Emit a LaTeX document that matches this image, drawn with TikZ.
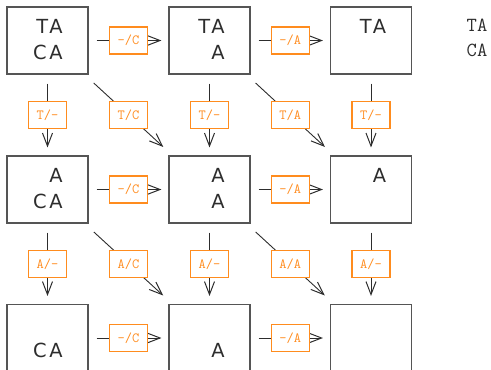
\documentclass[tikz,border=0pt]{standalone}
\usepackage{fontspec}
\newfontfamily\cellfont{DejaVu Sans}[LetterSpace=14]
\usetikzlibrary{arrows.meta}
\definecolor{lblorange}{RGB}{255,140,30}
\definecolor{boxgray}{RGB}{85,85,85}
\definecolor{txtgray}{RGB}{45,45,45}
\tikzset{
  cell/.style={draw=boxgray, line width=1.1pt, minimum width=81pt, minimum height=67pt, inner sep=0pt},
  seq/.style={anchor=base east, inner sep=0pt, text=txtgray, font=\cellfont\fontsize{19.4}{24}\selectfont},
  lbl/.style={draw=lblorange, fill=white, line width=1.2pt, text=lblorange, minimum width=38pt, minimum height=27pt, inner sep=0pt, font=\ttfamily\fontsize{14}{16}\selectfont},
  arr/.style={draw=txtgray, line width=0.9pt, -{Straight Barb[length=13pt,width=10pt,line width=1pt]}},
  harr/.style={arr, shorten <=8pt, shorten >=7pt},
  varr/.style={arr, shorten <=9pt, shorten >=8pt},
  darr/.style={arr, shorten <=12.5pt, shorten >=12.5pt},
  side/.style={anchor=base west, inner sep=0pt, text=txtgray, font=\ttfamily\fontsize{20}{24}\selectfont}
}
\begin{document}
\begin{tikzpicture}[x=1pt,y=-1pt]
\useasboundingbox (0,0) rectangle (491,370);
\clip (0,0) rectangle (491,370);
% cells
\node[cell] (b11) at (47.5,40.5) {};
\node[cell] (b12) at (209.5,40.5) {};
\node[cell] (b13) at (371,40.5) {};
\node[cell] (b21) at (47.5,189.5) {};
\node[cell] (b22) at (209.5,189.5) {};
\node[cell] (b23) at (371,189.5) {};
\node[cell] (b31) at (47.5,338) {};
\node[cell] (b32) at (209.5,338) {};
\node[cell] (b33) at (371,338) {};
% texts
\node[seq] (t11a) at (62.8,33) {TA};
\node[seq] (t11b) at (62.8,59.5) {CA};
\node[seq] (t12a) at (224.8,33) {TA};
\node[seq] (t12b) at (224.8,59.5) {A};
\node[seq] (t13a) at (386.3,33) {TA};
\node[seq] (t21a) at (62.8,182) {A};
\node[seq] (t21b) at (62.8,208.5) {CA};
\node[seq] (t22a) at (224.8,182) {A};
\node[seq] (t22b) at (224.8,208.5) {A};
\node[seq] (t23a) at (386.3,182) {A};
\node[seq] (t31b) at (62.8,357) {CA};
\node[seq] (t32b) at (224.8,357) {A};
% side text
\node[side] (s1) at (466.5,31.7) {TA};
\node[side] (s2) at (466.5,56.7) {CA};
% horizontal
\draw[harr] (b11) -- node[lbl] (l1) {-/C} (b12);
\draw[harr] (b12) -- node[lbl] (l2) {-/A} (b13);
\draw[harr] (b21) -- node[lbl] (l3) {-/C} (b22);
\draw[harr] (b22) -- node[lbl] (l4) {-/A} (b23);
\draw[harr] (b31) -- node[lbl] (l5) {-/C} (b32);
\draw[harr] (b32) -- node[lbl] (l6) {-/A} (b33);
% vertical
\draw[varr] (b11) -- node[lbl] (l7) {T/-} (b21);
\draw[varr] (b12) -- node[lbl] (l8) {T/-} (b22);
\draw[varr] (b13) -- node[lbl] (l9) {T/-} (b23);
\draw[varr] (b21) -- node[lbl] (l10) {A/-} (b31);
\draw[varr] (b22) -- node[lbl] (l11) {A/-} (b32);
\draw[varr] (b23) -- node[lbl] (l12) {A/-} (b33);
% diagonal
\draw[darr] (b11) -- node[lbl] (l13) {T/C} (b22);
\draw[darr] (b12) -- node[lbl] (l14) {T/A} (b23);
\draw[darr] (b21) -- node[lbl] (l15) {A/C} (b32);
\draw[darr] (b22) -- node[lbl] (l16) {A/A} (b33);
\end{tikzpicture}
\end{document}
